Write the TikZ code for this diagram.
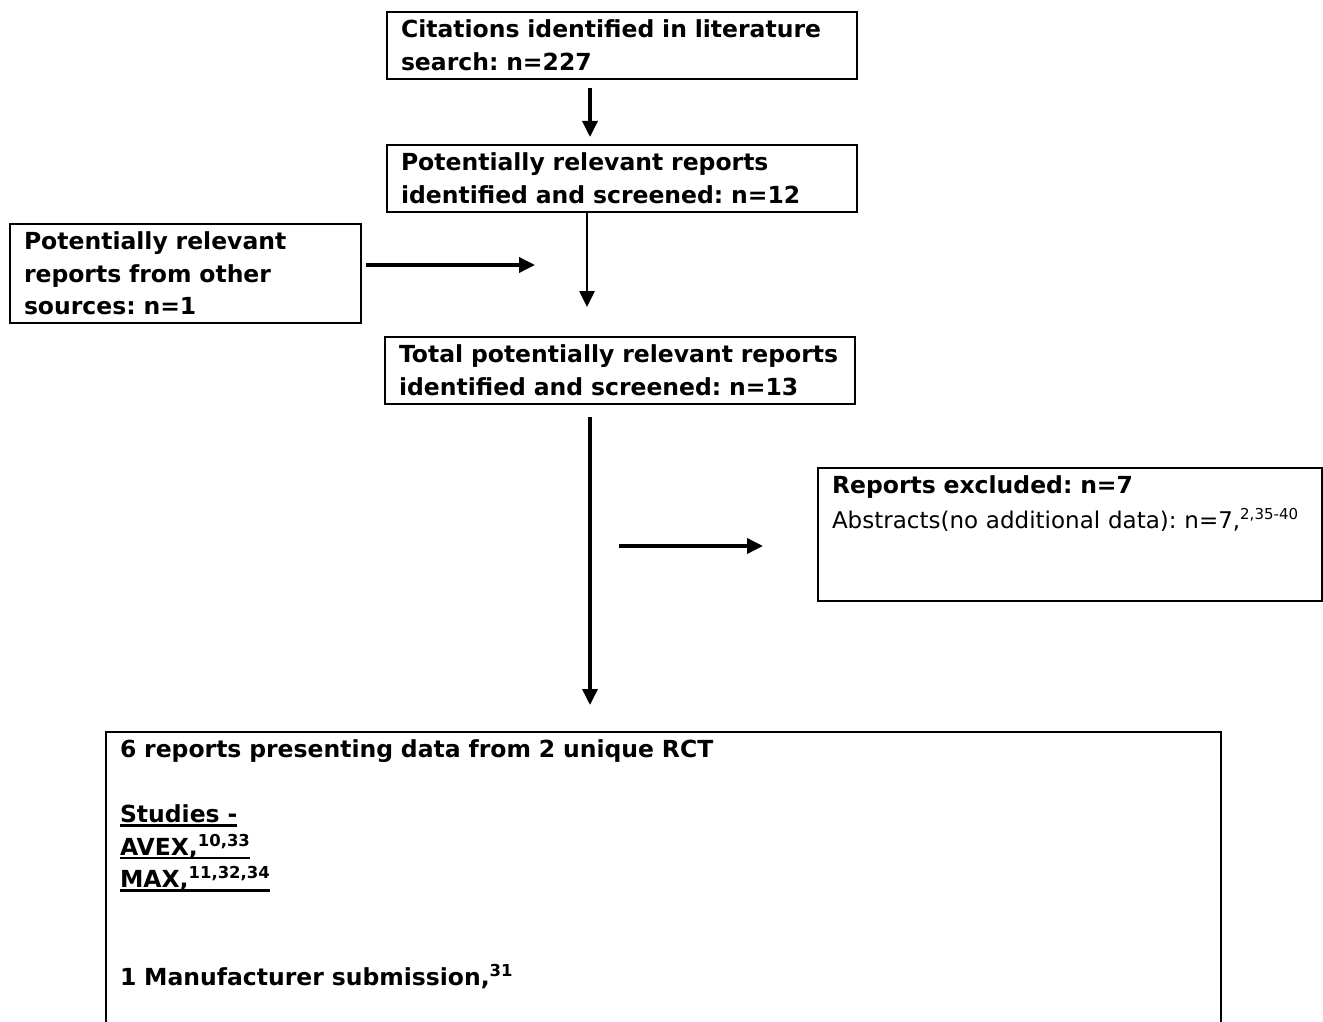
\documentclass[tikz,border=0pt]{standalone}
\usepackage{fontspec}
\setmainfont{DejaVu Sans}
\usetikzlibrary{arrows.meta}
\frenchspacing
\newcommand{\ulbar}[1]{\leavevmode\setbox0\hbox{#1}\rlap{\rule[-4pt]{\wd0}{2.8pt}}\box0}
\tikzset{
  stage/.style={draw=black, line width=2pt, anchor=north west, align=left,
    inner xsep=14pt, inner ysep=8pt, font=\fontsize{23.5}{32.5}\selectfont\bfseries},
  flow/.style={-{Triangle[length=16pt, width=15pt]}, line width=3.5pt},
  thinflow/.style={flow, line width=2.6pt},
}

\begin{document}
\begin{tikzpicture}[x=1pt, y=-1pt]
  \clip (0,0) rectangle (1323,1022);
  \fill[white] (0,0) rectangle (1323,1022);
  \node[stage, text width=442pt] (cites) at (386,11)
    {Citations identified in literature\\search: n=227};
  \node[stage, text width=442pt] (screened) at (386,144)
    {Potentially relevant reports\\identified and screened: n=12};
  \node[stage, text width=323pt] (other) at (9,223)
    {Potentially relevant\\reports from other\\sources: n=1};
  \node[stage, text width=442pt] (total) at (384,336)
    {Total potentially relevant reports\\identified and screened: n=13};
  \node[stage, text width=476pt, text depth=99pt,
        font=\fontsize{23.5}{35}\selectfont\bfseries] (excluded) at (817,467)
    {Reports excluded: n=7\\
     {\mdseries\fontsize{23}{35}\selectfont Abstracts(no additional data): n=7,\textsuperscript{\fontsize{15}{15}\selectfont 2,35-40}}};
  \node[stage, text width=1087pt, text depth=320pt] (included) at (105,731)
    {6 reports presenting data from 2 unique RCT\\[32.5pt]
     \ulbar{Studies -}\\
     \ulbar{AVEX,\textsuperscript{10,33}}\\
     \ulbar{MAX,\textsuperscript{11,32,34}}\\[65pt]
     1 Manufacturer submission,\textsuperscript{31}};
  % arrow ends
  \coordinate (c1a) at (590,88);  \coordinate (c1b) at (590,137);
  \coordinate (c2a) at (587,211); \coordinate (c2b) at (587,307);
  \coordinate (c3a) at (366,265); \coordinate (c3b) at (535,265);
  \coordinate (c4a) at (590,417); \coordinate (c4b) at (590,705);
  \coordinate (c5a) at (619,546); \coordinate (c5b) at (763,546);
  \draw[flow] (c1a) -- (c1b);
  \draw[thinflow] (c2a) -- (c2b);
  \draw[flow] (c3a) -- (c3b);
  \draw[flow] (c4a) -- (c4b);
  \draw[flow] (c5a) -- (c5b);
\end{tikzpicture}
\end{document}
